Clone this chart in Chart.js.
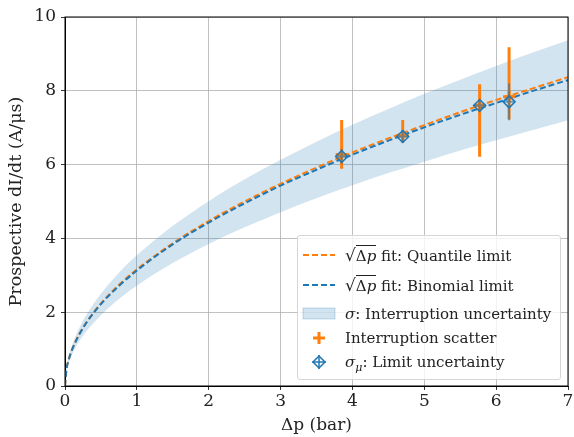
<!DOCTYPE html>
<html>
<head>
<meta charset="utf-8">
<script src="https://cdn.jsdelivr.net/npm/chart.js@4/dist/chart.umd.min.js"></script>
<style>
  body { margin: 0; background: #fff; }
  #wrap { position: relative; width: 574px; height: 437px; }
  #legend {
    position: absolute; left: 297px; top: 235px; width: 262px; height: 143px;
    border: 1px solid #d6d6d6; border-radius: 3px; background: rgba(255,255,255,0.8);
    font-family: 'DejaVu Serif', serif; font-size: 15px; color: #222;
  }
  .row { position: absolute; left: 0; height: 22px; line-height: 22px; white-space: nowrap; }
  .row svg { position: absolute; left: 4px; top: 0; }
  .row span.t { position: absolute; left: 47px; top: 0; }
  .ov { border-top: 1px solid #222; padding-top: 1px; }
  .rad { font-size: 17px; }
</style>
</head>
<body>
<div id="wrap">
  <canvas id="c" width="574" height="437"></canvas>
  <div id="legend">
    <div class="row" style="top:8px">
      <svg width="34" height="22"><line x1="1" y1="11" x2="33" y2="11" stroke="#ff7f0e" stroke-width="2" stroke-dasharray="6,3"/></svg>
      <span class="t"><span class="rad">√</span><span class="ov">Δ<i>p</i></span> fit: Quantile limit</span>
    </div>
    <div class="row" style="top:38px">
      <svg width="34" height="22"><line x1="1" y1="11" x2="33" y2="11" stroke="#1f77b4" stroke-width="2" stroke-dasharray="6,3"/></svg>
      <span class="t"><span class="rad">√</span><span class="ov">Δ<i>p</i></span> fit: Binomial limit</span>
    </div>
    <div class="row" style="top:67px">
      <svg width="34" height="22"><rect x="1" y="5" width="32" height="11" fill="rgba(31,119,180,0.2)" stroke="rgba(31,119,180,0.25)"/></svg>
      <span class="t"><i>σ</i>: Interruption uncertainty</span>
    </div>
    <div class="row" style="top:91px">
      <svg width="34" height="22"><line x1="17" y1="5" x2="17" y2="17" stroke="#ff7f0e" stroke-width="3"/><line x1="11" y1="11" x2="23" y2="11" stroke="#ff7f0e" stroke-width="3"/></svg>
      <span class="t">Interruption scatter</span>
    </div>
    <div class="row" style="top:115px">
      <svg width="34" height="22"><polygon points="17,5 23,11 17,17 11,11" fill="none" stroke="#1f77b4" stroke-width="1.5"/><line x1="17" y1="4" x2="17" y2="18" stroke="#1f77b4" stroke-width="1.5"/><line x1="10" y1="11" x2="24" y2="11" stroke="#1f77b4" stroke-width="1.5"/></svg>
      <span class="t"><i>σ</i><sub style="font-size:11px"><i>μ</i></sub>: Limit uncertainty</span>
    </div>
  </div>
</div>
<script>
// fit curves
const xFit = [0, 0.02, 0.05, 0.1, 0.2, 0.3, 0.5, 0.75, 1, 1.5, 2, 2.5, 3, 3.5, 4, 4.5, 5, 5.5, 6, 6.5, 7];
const quantileFit = [0, 0.45, 0.71, 1.00, 1.41, 1.73, 2.24, 2.74, 3.16, 3.87, 4.47, 5.00, 5.48, 5.92, 6.33, 6.71, 7.07, 7.42, 7.75, 8.06, 8.37];
const binomialFit = [0, 0.44, 0.70, 0.99, 1.40, 1.72, 2.22, 2.71, 3.13, 3.84, 4.43, 4.95, 5.43, 5.86, 6.27, 6.65, 7.01, 7.35, 7.67, 7.99, 8.29];
const bandUpper = [0, 0.50, 0.79, 1.12, 1.58, 1.94, 2.50, 3.07, 3.54, 4.34, 5.01, 5.60, 6.13, 6.62, 7.08, 7.51, 7.92, 8.30, 8.67, 9.03, 9.37];
const bandLower = [0, 0.38, 0.61, 0.86, 1.22, 1.49, 1.92, 2.36, 2.72, 3.33, 3.85, 4.30, 4.71, 5.09, 5.44, 5.77, 6.08, 6.38, 6.66, 6.93, 7.20];

// measured points
const scatterX = [3.85, 4.70, 5.77, 6.18];
const scatterY = [6.27, 6.78, 7.61, 7.84];
const scatterLow = [5.89, 6.59, 6.21, 7.22];
const scatterHigh = [7.21, 7.21, 8.18, 9.18];
const scatterXErr = [0.07, 0.06, 0.06, 0.06];
const limitY = [6.22, 6.76, 7.60, 7.70];
const limitYErr = [0.2, 0.15, 0.15, 0.5];
const limitXErr = [0.08, 0.08, 0.08, 0.08];

const xTicks = [0, 1, 2, 3, 4, 5, 6, 7];
const yTicks = [0, 2, 4, 6, 8, 10];

const ORANGE = '#ff7f0e';
const BLUE = '#1f77b4';
const FONT = "'DejaVu Serif', serif";

const pts = (xs, ys) => xs.map((x, i) => ({ x: x, y: ys[i] }));

// error bars, drawn just under their markers
const errorBars = {
  id: 'errorBars',
  beforeDatasetDraw(chart, args) {
    const xs = chart.scales.x, ys = chart.scales.y, ctx = chart.ctx;
    ctx.save();
    if (args.index === 4) {
      ctx.strokeStyle = ORANGE;
      ctx.lineWidth = 3;
      scatterX.forEach((x, i) => {
        const px = xs.getPixelForValue(x), py = ys.getPixelForValue(scatterY[i]);
        ctx.beginPath();
        ctx.moveTo(px, ys.getPixelForValue(scatterLow[i]));
        ctx.lineTo(px, ys.getPixelForValue(scatterHigh[i]));
        ctx.moveTo(xs.getPixelForValue(x - scatterXErr[i]), py);
        ctx.lineTo(xs.getPixelForValue(x + scatterXErr[i]), py);
        ctx.stroke();
      });
    }
    if (args.index === 5) {
      ctx.strokeStyle = 'rgba(31,119,180,0.6)';
      ctx.lineWidth = 2;
      scatterX.forEach((x, i) => {
        const px = xs.getPixelForValue(x), py = ys.getPixelForValue(limitY[i]);
        ctx.beginPath();
        ctx.moveTo(px, ys.getPixelForValue(limitY[i] - limitYErr[i]));
        ctx.lineTo(px, ys.getPixelForValue(limitY[i] + limitYErr[i]));
        ctx.moveTo(xs.getPixelForValue(x - limitXErr[i]), py);
        ctx.lineTo(xs.getPixelForValue(x + limitXErr[i]), py);
        ctx.stroke();
      });
    }
    ctx.restore();
  }
};

// top and right spines
const frame = {
  id: 'frame',
  afterDraw(chart) {
    const a = chart.chartArea, ctx = chart.ctx;
    ctx.save();
    ctx.strokeStyle = '#000';
    ctx.lineWidth = 1;
    ctx.strokeRect(a.left, a.top, a.right - a.left, a.bottom - a.top);
    ctx.restore();
  }
};

new Chart(document.getElementById('c'), {
  type: 'line',
  data: {
    datasets: [
      { label: 'band upper', data: pts(xFit, bandUpper), borderWidth: 0, pointRadius: 0,
        fill: false, cubicInterpolationMode: 'monotone', order: 10 },
      { label: 'σ: Interruption uncertainty', data: pts(xFit, bandLower), borderWidth: 0, pointRadius: 0,
        fill: '-1', backgroundColor: 'rgba(31,119,180,0.2)', cubicInterpolationMode: 'monotone', order: 9 },
      { label: 'Quantile limit', data: pts(xFit, quantileFit), borderColor: ORANGE, borderWidth: 2,
        borderDash: [6, 3], pointRadius: 0, fill: false, cubicInterpolationMode: 'monotone', order: 8 },
      { label: 'Binomial limit', data: pts(xFit, binomialFit), borderColor: BLUE, borderWidth: 2,
        borderDash: [6, 3], pointRadius: 0, fill: false, cubicInterpolationMode: 'monotone', order: 7 },
      { label: 'Interruption scatter', data: pts(scatterX, scatterY), showLine: false,
        pointStyle: 'cross', pointRadius: 6, pointBorderWidth: 3, borderColor: ORANGE, order: 6 },
      { label: 'Limit uncertainty', data: pts(scatterX, limitY), showLine: false,
        pointStyle: 'rectRot', pointRadius: 6, pointBorderWidth: 1.5, borderColor: BLUE,
        pointBackgroundColor: 'rgba(0,0,0,0)', order: 5 }
    ]
  },
  options: {
    responsive: false,
    animation: false,
    devicePixelRatio: 1,
    events: [],
    layout: { autoPadding: false, padding: { top: 17, right: 6, left: 0, bottom: 0 } },
    plugins: { legend: { display: false }, tooltip: { enabled: false } },
    scales: {
      x: {
        type: 'linear', min: 0, max: 7,
        afterBuildTicks: s => { s.ticks = xTicks.map(v => ({ value: v })); },
        afterFit: s => { s.height = 51; s.paddingLeft = 0; s.paddingRight = 0; },
        ticks: { color: '#222', font: { family: FONT, size: 17 }, padding: 1 },
        grid: { color: '#b0b0b0', lineWidth: 0.8, tickColor: '#000', tickLength: 4 },
        border: { color: '#000', width: 1 },
        title: { display: true, text: 'Δp (bar)', color: '#222', font: { family: FONT, size: 17 }, padding: { top: 0, bottom: 1 } }
      },
      y: {
        type: 'linear', min: 0, max: 10,
        afterBuildTicks: s => { s.ticks = yTicks.map(v => ({ value: v })); },
        afterFit: s => { s.width = 65; s.paddingTop = 0; s.paddingBottom = 0; },
        ticks: { color: '#222', font: { family: FONT, size: 17 }, padding: 5 },
        grid: { color: '#b0b0b0', lineWidth: 0.8, tickColor: '#000', tickLength: 4 },
        border: { color: '#000', width: 1 },
        title: { display: true, text: 'Prospective dI/dt (A/μs)', color: '#222', font: { family: FONT, size: 17.5 }, padding: { top: 6, bottom: 0 } }
      }
    }
  },
  plugins: [errorBars, frame]
});
</script>
</body>
</html>
